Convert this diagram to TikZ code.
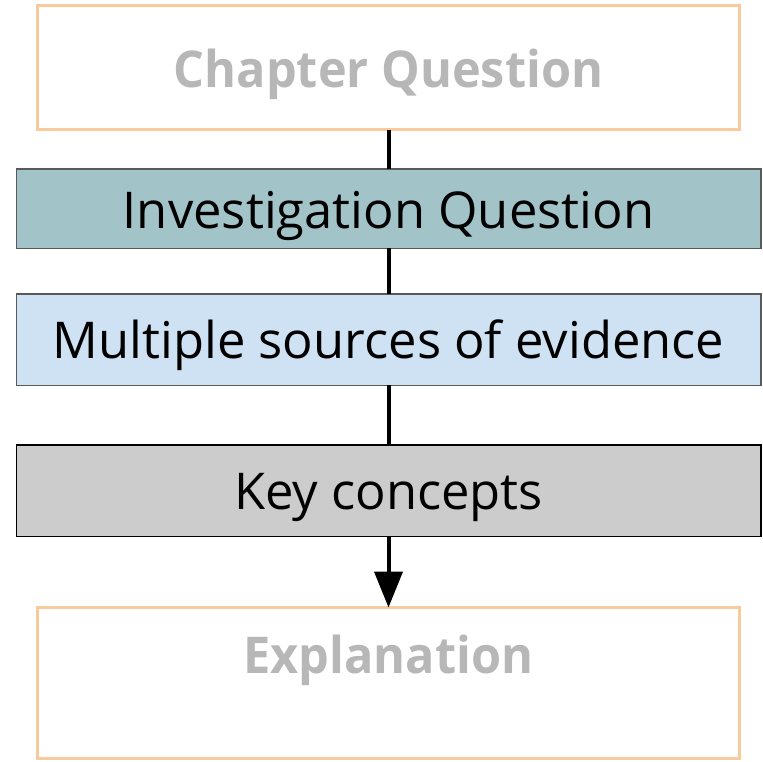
\documentclass[tikz,border=0pt]{standalone}
\usepackage{fontspec}
\setmainfont{Open Sans}
\newfontfamily\semibold{Open Sans}[FakeStretch=0.96]
\usepackage{xcolor}
\usepackage{tikz}
\usetikzlibrary{positioning, arrows.meta}
\definecolor{chapline}{HTML}{F9CB9C}
\definecolor{chaptext}{HTML}{B7B7B7}
\definecolor{invfill}{HTML}{A2C4C9}
\definecolor{evifill}{HTML}{CFE2F3}
\definecolor{keyfill}{HTML}{CCCCCC}
\definecolor{boxline}{HTML}{595959}

\begin{document}
\begin{tikzpicture}[x=1pt, y=1pt,
  every node/.style={inner sep=0pt, outer sep=0pt, font=\fontsize{50.7}{60}\selectfont},
  outer/.style={draw=chapline, line width=3pt, minimum width=702pt,
    text=chaptext, font=\fontsize{50.7}{60}\selectfont\semibold\bfseries},
  stage/.style={draw=boxline, line width=1.5pt, minimum width=744.5pt},
  flow/.style={line width=4pt}]
\useasboundingbox (0,0) rectangle (763,-761);
\node[outer, anchor=north, text height=81.5pt, text depth=42.5pt]
  (chap) at (388.5,-5.5) {Chapter Question};
\node[stage, fill=invfill, below=39.25pt of chap,
  text height=59.25pt, text depth=20.25pt] (inv) {Investigation Question};
\node[stage, fill=evifill, below=45.5pt of inv,
  text height=64.25pt, text depth=27.25pt] (evi) {Multiple sources of evidence};
\node[stage, draw=black, fill=keyfill, below=59.5pt of evi,
  text height=64.25pt, text depth=27.25pt] (key) {Key concepts};
\node[outer, below=71.25pt of key,
  text height=65.5pt, text depth=85pt] (expl) {Explanation};
% connectors
\draw[flow] (chap) -- (inv);
\draw[flow] (inv) -- (evi);
\draw[flow] (evi) -- (key);
\draw[flow, -{Triangle[width=28pt, length=36pt]}] (key) -- (expl);
\end{tikzpicture}
\end{document}
